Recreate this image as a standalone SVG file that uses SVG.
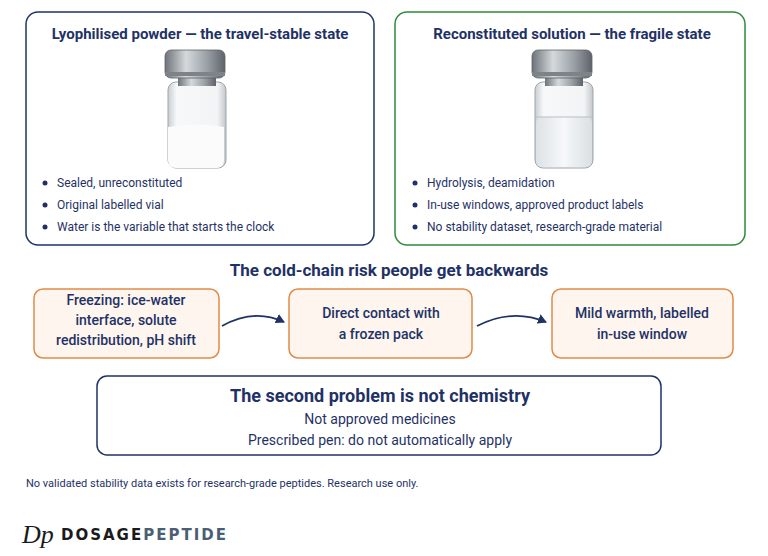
<svg xmlns="http://www.w3.org/2000/svg" width="768" height="556" viewBox="0 0 768 556">
<defs>
<linearGradient id="metal" x1="0" x2="1"><stop offset="0" stop-color="#6d7378"/><stop offset="0.35" stop-color="#d5d9dc"/><stop offset="0.7" stop-color="#9aa0a5"/><stop offset="1" stop-color="#5d6368"/></linearGradient>
<linearGradient id="glass" x1="0" x2="1"><stop offset="0" stop-color="#c9ced2"/><stop offset="0.15" stop-color="#f7f8f9"/><stop offset="0.85" stop-color="#f2f4f5"/><stop offset="1" stop-color="#c2c7cb"/></linearGradient>
<linearGradient id="liq" x1="0" x2="1"><stop offset="0" stop-color="#dde2e6"/><stop offset="0.5" stop-color="#f6f8fa"/><stop offset="1" stop-color="#dadfe3"/></linearGradient>
<marker id="ar" markerWidth="10" markerHeight="10" refX="8" refY="5" orient="auto" markerUnits="userSpaceOnUse"><path d="M0,0 L9,5 L0,10 Z" fill="#1f3266"/></marker>
<g id="vial">
<rect x="-27" y="32" width="58" height="86" rx="8" fill="url(#glass)" stroke="#9ea5aa"/>
<rect x="-17" y="26" width="38" height="10" fill="url(#metal)"/>
<rect x="-30" y="0" width="60" height="28" rx="6" fill="url(#metal)" stroke="#5d6368" stroke-width="0.8"/>
<rect x="-30" y="22" width="60" height="4" fill="#7d8388"/>
</g>
</defs>
<style>
.t{font-family:Roboto,"Liberation Sans",Arial,sans-serif;fill:#1f3266}
.h{font-size:15px;font-weight:bold}
.b{font-size:12px}
.o{fill:#fdf5ee;stroke:#e08a4a;stroke-width:1.5}
.c{font-size:14px;font-weight:500}
</style>
<rect width="768" height="556" fill="#fff"/>
<g id="left">
<rect x="26" y="12" width="348" height="233" rx="12" fill="#fff" stroke="#1f3266" stroke-width="1.5"/>
<text class="t h" x="200" y="39" text-anchor="middle">Lyophilised powder — the travel-stable state</text>
<use href="#vial" x="195" y="50"/>
<path d="M168,127 Q196,122 224,127 V160 Q224,168 216,168 H176 Q168,168 168,160 Z" fill="#fbfbfb"/>
<g class="t b"><circle cx="45" cy="183" r="2.5" fill="#1f3266"/><text x="57" y="187">Sealed, unreconstituted</text>
<circle cx="45" cy="205" r="2.5" fill="#1f3266"/><text x="57" y="209">Original labelled vial</text>
<circle cx="45" cy="227" r="2.5" fill="#1f3266"/><text x="57" y="231">Water is the variable that starts the clock</text></g>
</g>
<g id="right">
<rect x="395" y="12" width="350" height="233" rx="12" fill="#fff" stroke="#2e8b3a" stroke-width="1.5"/>
<text class="t h" x="572" y="39" text-anchor="middle">Reconstituted solution — the fragile state</text>
<use href="#vial" x="562" y="50"/>
<rect x="536" y="117" width="56" height="50" rx="6" fill="url(#liq)"/>
<line x1="536" y1="117" x2="592" y2="117" stroke="#b8bfc5"/>
<g class="t b"><circle cx="415" cy="183" r="2.5" fill="#1f3266"/><text x="427" y="187">Hydrolysis, deamidation</text>
<circle cx="415" cy="205" r="2.5" fill="#1f3266"/><text x="427" y="209">In-use windows, approved product labels</text>
<circle cx="415" cy="227" r="2.5" fill="#1f3266"/><text x="427" y="231">No stability dataset, research-grade material</text></g>
</g>
<text class="t" x="389" y="276" text-anchor="middle" font-size="17" font-weight="bold">The cold-chain risk people get backwards</text>
<g id="n1"><rect class="o" x="34" y="289" width="185" height="69" rx="9"/>
<text class="t c" text-anchor="middle"><tspan x="126" y="305">Freezing: ice-water</tspan><tspan x="126" y="325">interface, solute</tspan><tspan x="126" y="345">redistribution, pH shift</tspan></text></g>
<g id="n2"><rect class="o" x="289" y="289" width="183" height="69" rx="9"/>
<text class="t c" text-anchor="middle"><tspan x="381" y="318">Direct contact with</tspan><tspan x="381" y="339">a frozen pack</tspan></text></g>
<g id="n3"><rect class="o" x="552" y="289" width="181" height="69" rx="9"/>
<text class="t c" text-anchor="middle"><tspan x="642" y="318">Mild warmth, labelled</tspan><tspan x="642" y="339">in-use window</tspan></text></g>
<g id="connectors" fill="none" stroke="#1f3266" stroke-width="1.8">
<path d="M222,326 Q254,308 284,322" marker-end="url(#ar)"/>
<path d="M477,326 Q512,308 546,322" marker-end="url(#ar)"/>
</g>
<g id="bottom"><rect x="97" y="376" width="564" height="79" rx="10" fill="#fff" stroke="#1f3266" stroke-width="1.5"/>
<text class="t" x="380" y="402" text-anchor="middle" font-size="18" font-weight="bold">The second problem is not chemistry</text>
<text class="t" x="380" y="424" text-anchor="middle" font-size="14">Not approved medicines</text>
<text class="t" x="380" y="445" text-anchor="middle" font-size="14">Prescribed pen: do not automatically apply</text></g>
<text class="t" x="26" y="487" font-size="11">No validated stability data exists for research-grade peptides. Research use only.</text>
<text x="22" y="543" font-family="Liberation Serif,serif" font-style="italic" font-size="26" fill="#1a1a1a">Dp</text>
<text x="61" y="540" font-family="DejaVu Sans,sans-serif" font-weight="bold" font-size="15" letter-spacing="2" fill="#1a1a1a">DOSAGE<tspan fill="#4a5f75">PEPTIDE</tspan></text>
</svg>
